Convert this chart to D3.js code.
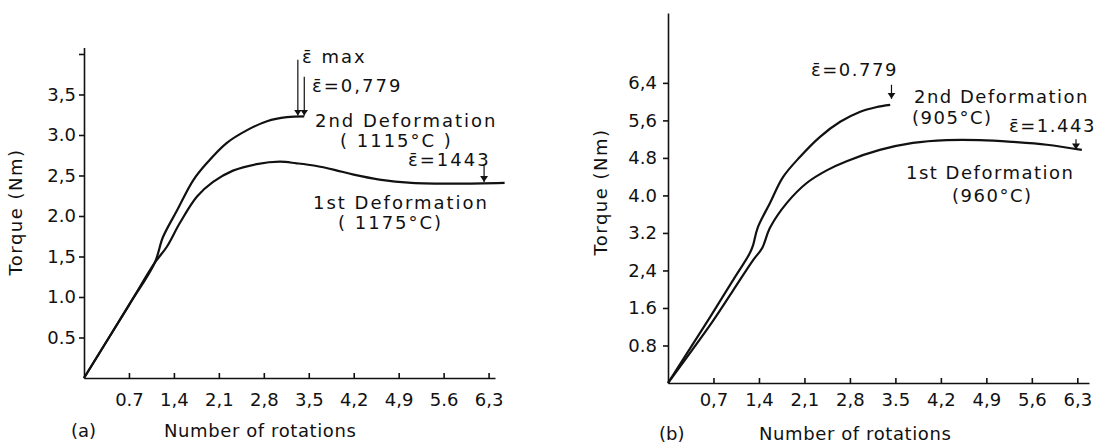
<!DOCTYPE html>
<html>
<head>
<meta charset="utf-8">
<script src="https://cdn.jsdelivr.net/npm/d3@7"></script>
<style>
  body { margin: 0; background: #fff; }
  svg text { font-family: "DejaVu Sans", sans-serif; fill: #111; }
  .axis path, .axis line { stroke: #111; stroke-width: 1.6; }
  .axis text { font-size: 18px; }
  .curve { fill: none; stroke: #111; stroke-width: 2.2; }
  .note { font-size: 18px; }
</style>
</head>
<body>
<svg id="fig" width="1095" height="446"></svg>
<script>
// panel (a)
const rotA2 = [0, 0.7, 1.1, 1.23, 1.45, 1.70, 1.91, 2.22, 2.54, 2.85, 3.16, 3.43];
const torqueA2 = [0, 0.9, 1.42, 1.74, 2.07, 2.44, 2.65, 2.90, 3.06, 3.17, 3.22, 3.23];
const rotA1 = [0, 0.7, 1.1, 1.29, 1.49, 1.76, 2.01, 2.32, 2.69, 3.05, 3.31, 3.6, 3.9, 4.2, 4.6, 5.1, 5.8, 6.55];
const torqueA1 = [0, 0.9, 1.42, 1.62, 1.91, 2.24, 2.42, 2.56, 2.64, 2.67, 2.65, 2.62, 2.57, 2.51, 2.45, 2.41, 2.40, 2.41];

// panel (b)
const rotB2 = [0, 0.65, 1.0, 1.26, 1.31, 1.38, 1.57, 1.77, 2.03, 2.34, 2.65, 2.95, 3.2, 3.42];
const torqueB2 = [0, 1.41, 2.19, 2.77, 2.94, 3.31, 3.84, 4.39, 4.82, 5.25, 5.57, 5.78, 5.88, 5.93];
const rotB1 = [0, 0.69, 1.0, 1.31, 1.45, 1.57, 1.83, 2.14, 2.45, 2.75, 3.26, 3.77, 4.29, 4.8, 5.31, 5.83, 6.37];
const torqueB1 = [0, 1.32, 1.97, 2.62, 2.88, 3.31, 3.84, 4.27, 4.54, 4.73, 4.97, 5.12, 5.18, 5.18, 5.14, 5.08, 4.97];

// ticks
const xTicks = [0.7, 1.4, 2.1, 2.8, 3.5, 4.2, 4.9, 5.6, 6.3];
const xLabelsA = ["0.7", "1,4", "2,1", "2,8", "3,5", "4,2", "4,9", "5.6", "6,3"];
const xLabelsB = ["0,7", "1,4", "2,1", "2,8", "3.5", "4,2", "4,9", "5,6", "6,3"];
const yTicksA = [0.5, 1.0, 1.5, 2.0, 2.5, 3.0, 3.5, 4.0];
const yLabelsA = ["0.5", "1.0", "1,5", "2.0", "2,5", "3.0", "3,5", ""];
const yTicksB = [0.8, 1.6, 2.4, 3.2, 4.0, 4.8, 5.6, 6.4];
const yLabelsB = ["0.8", "1.6", "2,4", "3.2", "4.0", "4.8", "5,6", "6,4"];

const svg = d3.select("#fig");
const EPS = "\u03b5\u0304";

// arrow head
svg.append("defs").append("marker")
    .attr("id", "head")
    .attr("viewBox", "0 0 6 10")
    .attr("refX", 6).attr("refY", 5)
    .attr("markerWidth", 6).attr("markerHeight", 10)
    .attr("markerUnits", "userSpaceOnUse")
    .attr("orient", "auto")
    .append("path").attr("d", "M0,1 L6,5 L0,9 Z").attr("fill", "#111");

function panel(o) {
    const g = svg.append("g");
    const x = d3.scaleLinear().domain(o.xDom).range(o.xRange);
    const y = d3.scaleLinear().domain(o.yDom).range(o.yRange);

    g.append("g").attr("class", "axis")
        .attr("transform", `translate(0,${o.yRange[0]})`)
        .call(d3.axisBottom(x).tickValues(xTicks).tickSizeInner(-5).tickSizeOuter(0)
            .tickPadding(o.xPad).tickFormat((d, i) => o.xLabels[i]));

    g.append("g").attr("class", "axis")
        .attr("transform", `translate(${o.xRange[0]},0)`)
        .call(d3.axisLeft(y).tickValues(o.yTicks).tickSizeInner(5).tickSizeOuter(0)
            .tickPadding(o.yPad).tickFormat((d, i) => o.yLabels[i]));

    g.selectAll(".axis .domain").attr("stroke-width", 1.8);

    const line = d3.line().x(d => x(d[0])).y(d => y(d[1])).curve(d3.curveCatmullRom.alpha(0.5));
    o.series.forEach(s => {
        g.append("path").attr("class", "curve")
            .attr("d", line(d3.zip(s.rot, s.torque)));
    });

    // arrows
    o.arrows.forEach(a => {
        g.append("line")
            .attr("x1", x(a[0])).attr("x2", x(a[0]))
            .attr("y1", y(a[1])).attr("y2", y(a[2]))
            .attr("stroke", "#111").attr("stroke-width", 1.2)
            .attr("marker-end", "url(#head)");
    });

    // titles
    g.append("text")
        .attr("transform", `translate(${o.yTitle[0]},${o.yTitle[1]}) rotate(-90)`)
        .attr("text-anchor", "middle").attr("font-size", 18).attr("letter-spacing", 1.5)
        .text("Torque (Nm)");
    g.append("text").attr("x", o.xTitle[0]).attr("y", o.xTitle[1])
        .attr("font-size", 18).attr("letter-spacing", 0.6)
        .text("Number of rotations");
    g.append("text").attr("x", o.tag[0]).attr("y", o.tag[1])
        .attr("font-size", 18).text(o.tagText);

    o.notes.forEach(n => {
        g.append("text").attr("class", "note")
            .attr("letter-spacing", o.spacing)
            .attr("x", n[0]).attr("y", n[1]).text(n[2]);
    });
    return g;
}

panel({
    xDom: [0, 6.4], xRange: [84, 495],
    yDom: [0, 4.08], yRange: [378, 47.5],
    xLabels: xLabelsA, yTicks: yTicksA, yLabels: yLabelsA,
    xPad: 15, yPad: 3, spacing: 2,
    series: [{rot: rotA2, torque: torqueA2}, {rot: rotA1, torque: torqueA1}],
    arrows: [[3.33, 3.93, 3.24], [3.43, 3.72, 3.24], [6.23, 2.62, 2.42]],
    yTitle: [22, 212], xTitle: [164, 437], tag: [71, 437], tagText: "(a)",
    notes: [
        [302, 63, EPS + " max"],
        [312, 92, EPS + "=0,779"],
        [315, 127, "2nd Deformation"],
        [340, 147, "( 1115°C )"],
        [408, 166, EPS + "=1443"],
        [313, 209, "1st Deformation"],
        [338, 229, "( 1175°C)"]
    ]
});

panel({
    xDom: [0, 6.48], xRange: [668, 1089],
    yDom: [0, 7.89], yRange: [383, 13],
    xLabels: xLabelsB, yTicks: yTicksB, yLabels: yLabelsB,
    xPad: 10, yPad: 6, spacing: 1.5,
    series: [{rot: rotB2, torque: torqueB2}, {rot: rotB1, torque: torqueB1}],
    arrows: [[3.44, 6.36, 6.06], [6.28, 5.2, 4.98]],
    yTitle: [607, 192], xTitle: [759, 440], tag: [659, 440], tagText: "(b)",
    notes: [
        [811, 76, EPS + "=0.779"],
        [914, 103, "2nd Deformation"],
        [912, 124, "(905°C)"],
        [1009, 132, EPS + "=1.443"],
        [906, 179, "1st Deformation"],
        [952, 202, "(960°C)"]
    ]
});
</script>
</body>
</html>
